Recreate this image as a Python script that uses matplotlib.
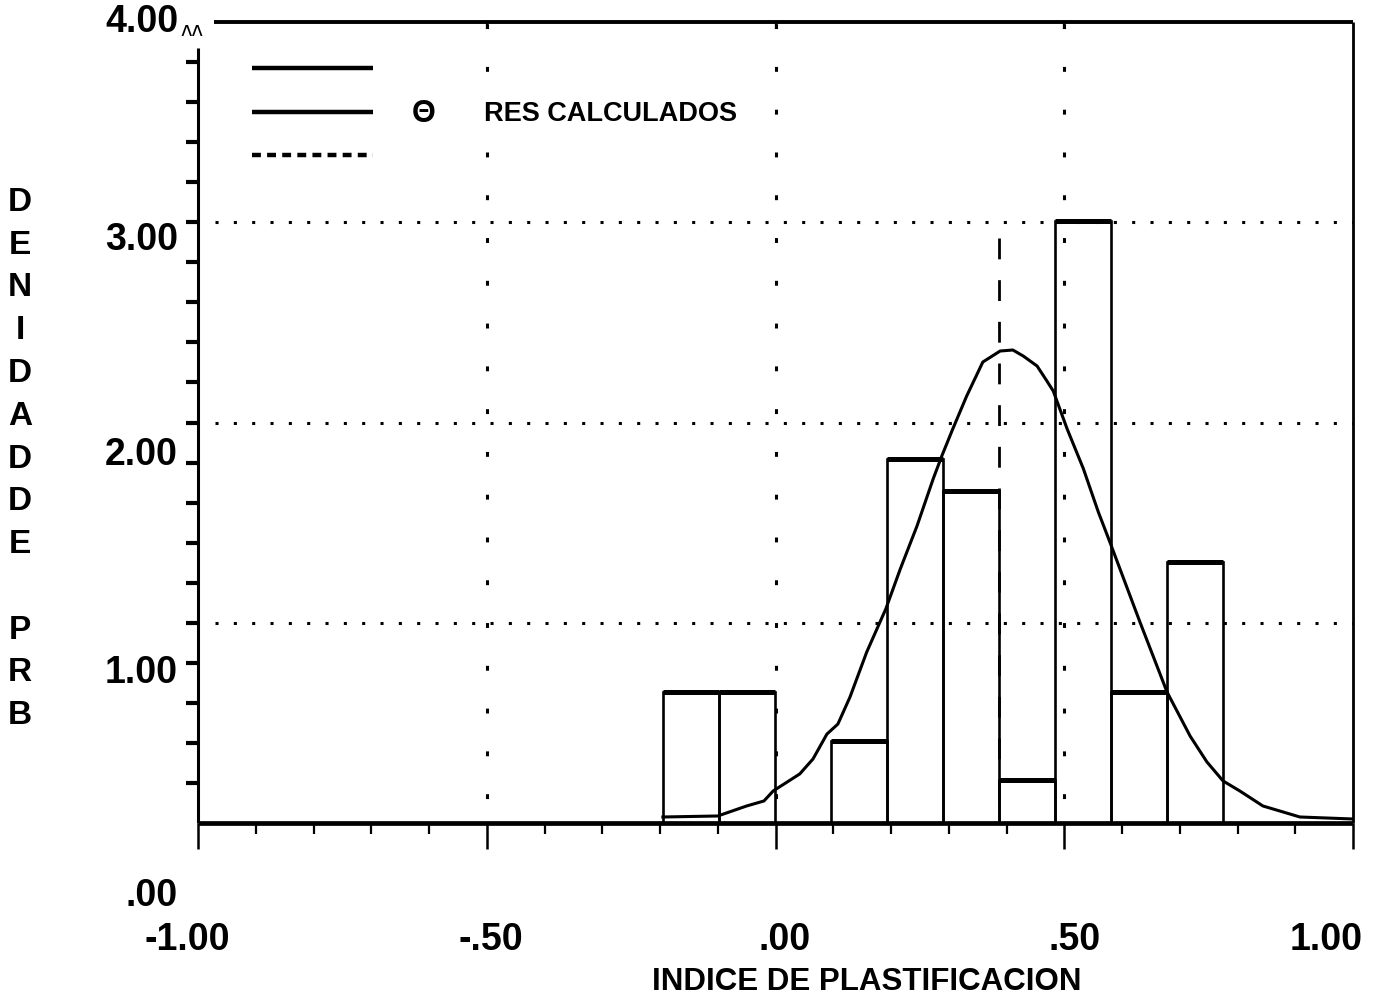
import matplotlib
matplotlib.use("Agg")
import matplotlib.pyplot as plt
from matplotlib import font_manager

# ---------------- data ----------------
bin_edges = [-0.195, -0.098, -0.001, 0.096, 0.193, 0.290, 0.387, 0.484, 0.581, 0.678, 0.775]
bar_heights = [0.654, 0.654, 0.0, 0.410, 1.818, 1.658, 0.215, 3.006, 0.654, 1.303]

curve_x = [-0.195, -0.100, -0.080, -0.050, -0.020, -0.004, 0.042, 0.065, 0.089, 0.108,
           0.129, 0.158, 0.191, 0.216, 0.245, 0.273, 0.288, 0.307, 0.331, 0.359,
           0.389, 0.411, 0.429, 0.453, 0.470, 0.481, 0.505, 0.533, 0.559, 0.579,
           0.631, 0.678, 0.718, 0.747, 0.775, 0.804, 0.844, 0.879, 0.908, 1.000]
curve_y = [0.030, 0.035, 0.055, 0.085, 0.110, 0.160, 0.245, 0.320, 0.444, 0.494,
           0.629, 0.854, 1.069, 1.268, 1.483, 1.718, 1.833, 1.968, 2.132, 2.302,
           2.357, 2.362, 2.332, 2.282, 2.207, 2.157, 1.968, 1.770, 1.553, 1.403,
           1.004, 0.654, 0.434, 0.305, 0.210, 0.160, 0.085, 0.055, 0.030, 0.020]

mean_value = 0.387
mean_line_top = 2.92

xtick_major = [-1.0, -0.5, 0.0, 0.5, 1.0]
xtick_labels = ["-1.00", "-.50", ".00", ".50", "1.00"]
ytick_labels = ["4.00", "3.00", "2.00", "1.00", ".00"]
ygrid_values = [1.0, 2.0, 3.0]
xgrid_values = [-0.5, 0.0, 0.5]
legend_text = "RES CALCULADOS"
xlabel_text = "INDICE DE PLASTIFICACION"
ylabel_text = "DENIDADDE PRB"

# ---------------- fonts ----------------
names = {f.name for f in font_manager.fontManager.ttflist}
narrow = 'Liberation Sans Narrow' in names
main_font = 'Liberation Sans Narrow' if narrow else 'Liberation Sans'
FAM = [main_font, 'DejaVu Sans']
plt.rcParams['font.family'] = FAM
k = 1.0 if not narrow else 1.2   # size factor

W, H = 1373, 1004
fig = plt.figure(figsize=(W / 100, H / 100), dpi=100)
fig.patch.set_facecolor('white')

def fx(px):
    return px / W

def fy(py):
    return 1 - py / H

ax = fig.add_axes([fx(198), fy(824), fx(1353) - fx(198), fy(23) - fy(824)])
ax.set_xlim(-1.0, 1.0)
ax.set_ylim(0.0, 4.0)
ax.set_facecolor('white')

# spines
ax.spines['bottom'].set_linewidth(3.4)
ax.spines['left'].set_linewidth(2.2)
ax.spines['left'].set_bounds(0.0, 3.87)
ax.spines['top'].set_linewidth(2.8)
ax.spines['top'].set_bounds(-0.972, 1.0)
ax.spines['right'].set_linewidth(2.0)
for s in ax.spines.values():
    s.set_capstyle('butt')

# x ticks
ax.set_xticks(xtick_major)
ax.set_xticklabels([])
ax.set_xticks([round(-1.0 + 0.1 * i, 2) for i in range(21)], minor=True)
ax.tick_params(axis='x', which='major', direction='out', length=19, width=1.8, bottom=True, top=False)
ax.tick_params(axis='x', which='minor', direction='out', length=8, width=1.6, bottom=True, top=False)

# y ticks
ax.set_yticks([round(0.2 * i, 2) for i in range(1, 20)])
ax.set_yticklabels([])
ax.tick_params(axis='y', which='major', direction='out', length=9, width=3.0, left=True, right=False)

# top ticks
sec = ax.secondary_xaxis('top')
sec.set_xticks(xgrid_values)
sec.set_xticklabels([])
sec.tick_params(direction='in', length=5, width=1.6)
sec.spines['top'].set_visible(False)

# dotted grid lines
for gy in ygrid_values:
    ax.plot([-0.97, 1.0], [gy, gy], color='black', lw=2.2,
            linestyle=(0, (1.0, 5.0)), dash_capstyle='butt', zorder=1)
for gx in xgrid_values:
    ax.plot([gx, gx], [0.0, 4.0], color='black', lw=2.2,
            linestyle=(6, (1.6, 12.4)), dash_capstyle='butt', zorder=1)

# histogram outlines
lefts = bin_edges[:-1]
widths = [b - a for a, b in zip(bin_edges[:-1], bin_edges[1:])]
ax.bar(lefts, bar_heights, width=widths, align='edge', fill=False,
       edgecolor='black', linewidth=1.9, zorder=3)
ax.hlines([h for h in bar_heights if h > 0],
          [l for l, h in zip(lefts, bar_heights) if h > 0],
          [l + w for l, w, h in zip(lefts, widths, bar_heights) if h > 0],
          color='black', linewidth=3.6, zorder=4)

# fitted curve
ax.plot(curve_x, curve_y, color='black', lw=2.2, zorder=5, solid_joinstyle='round')

# mean dashed line
ax.plot([mean_value, mean_value], [mean_line_top, 0.0], color='black', lw=2.0,
        linestyle=(0, (7.5, 7.5)), dash_capstyle='butt', zorder=5)

# legend (manual)
lx0, lx1 = -0.906, -0.697
ax.plot([lx0, lx1], [3.77, 3.77], color='black', lw=3.2, solid_capstyle='butt')
ax.plot([lx0, lx1], [3.55, 3.55], color='black', lw=3.2, solid_capstyle='butt')
ax.plot([lx0, lx1], [3.335, 3.335], color='black', lw=3.2,
        linestyle=(0, (2.0, 1.4)), dash_capstyle='butt')
fig.text(fx(424), fy(114), "Θ", ha='center', va='center', fontsize=22 * k,
         fontweight='bold', family=FAM)
fig.text(fx(484), fy(114), legend_text, ha='left', va='center', fontsize=19.5 * k,
         fontweight='bold', family=FAM)

# y tick labels (positions as printed on the original)
ylab_pos = [22, 240, 455, 673, 896]
for lab, py in zip(ytick_labels, ylab_pos):
    fig.text(fx(178), fy(py), lab, ha='right', va='center', fontsize=27 * k,
             fontweight='bold', family=FAM)
fig.text(fx(180), fy(36), "ʌʌ", ha='left', va='baseline', fontsize=14,
         family=['DejaVu Sans'])

# x tick labels
xlab_pos = [187, 491, 785, 1075, 1326]
for lab, px in zip(xtick_labels, xlab_pos):
    fig.text(fx(px), fy(940), lab, ha='center', va='center', fontsize=27 * k,
             fontweight='bold', family=FAM)

# axis titles
fig.text(fx(867), fy(982), xlabel_text, ha='center', va='center', fontsize=22.5 * k,
         fontweight='bold', family=FAM)
fig.text(fx(20), fy(459), "\n".join(list(ylabel_text)), ha='center', va='center',
         fontsize=24 * k, fontweight='bold', family=FAM, linespacing=1.49)

fig.savefig("out.png", dpi=100, facecolor='white')
